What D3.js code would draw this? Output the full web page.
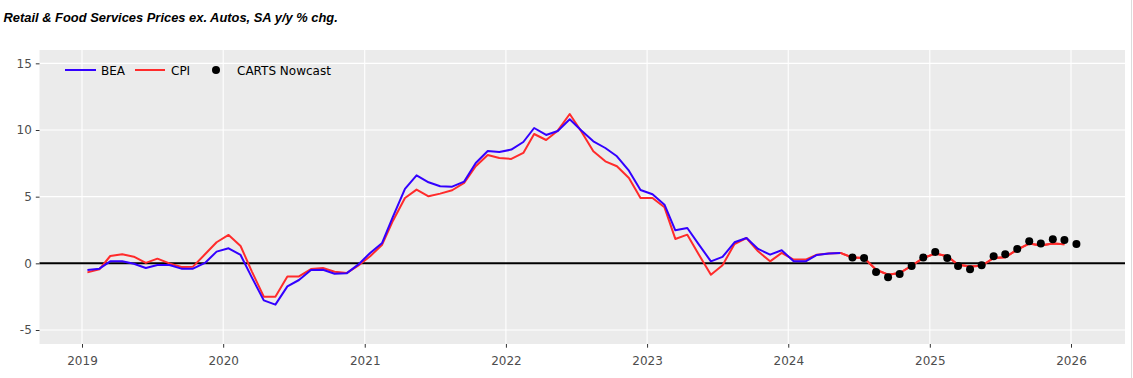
<!DOCTYPE html>
<html><head><meta charset="utf-8">
<script src="https://cdn.jsdelivr.net/npm/d3@7"></script>
<style>
html,body{margin:0;padding:0;background:#fff;}
svg{display:block;}
</style></head>
<body>
<svg id="chart" width="1133" height="378"></svg>
<script>
// ---- data ----
const title = "Retail & Food Services Prices ex. Autos, SA y/y % chg.";
const seriesNames = ["BEA", "CPI", "CARTS Nowcast"];
const beaStart = "2019-01-15";
const beaValues = [
  -0.5, -0.4, 0.15, 0.15, -0.03, -0.35, -0.13, -0.13, -0.4, -0.4, 0.03, 0.88,
  1.13, 0.63, -1.05, -2.78, -3.1, -1.73, -1.25, -0.5, -0.48, -0.78, -0.75, -0.1,
  0.78, 1.53, 3.5, 5.58, 6.6, 6.08, 5.78, 5.75, 6.13, 7.53, 8.43, 8.35,
  8.53, 9.1, 10.15, 9.63, 9.93, 10.8, 9.96, 9.15, 8.65, 8.03, 6.95, 5.5,
  5.18, 4.4, 2.48, 2.65, 1.4, 0.15, 0.48, 1.58, 1.9, 1.08, 0.65, 0.98,
  0.15, 0.15, 0.63, 0.73, 0.78
];
const cpiStart = "2019-01-15";
const cpiValues = [
  -0.68, -0.45, 0.55, 0.68, 0.5, 0.03, 0.35, 0.0, -0.28, -0.25, 0.68, 1.58,
  2.13, 1.3, -0.6, -2.5, -2.5, -0.98, -0.98, -0.43, -0.35, -0.63, -0.73, -0.18,
  0.53, 1.4, 3.2, 4.9, 5.53, 5.03, 5.23, 5.48, 6.03, 7.28, 8.13, 7.9,
  7.83, 8.28, 9.7, 9.25, 9.95, 11.2, 9.89, 8.4, 7.65, 7.28, 6.4, 4.9,
  4.9, 4.2, 1.83, 2.15, 0.65, -0.85, -0.15, 1.45, 1.9, 0.9, 0.15, 0.78,
  0.28, 0.28, 0.65, 0.73, 0.78, 0.43, 0.4, -0.48, -0.85, -0.73, -0.18, 0.4,
  0.73, 0.53, -0.1, -0.23, -0.18, 0.4, 0.45, 1.03, 1.48, 1.33, 1.48, 1.43
];
const nowcastStart = "2024-06-15";
const nowcastValues = [
  0.43, 0.4, -0.65, -1.05, -0.8, -0.2, 0.43, 0.85, 0.4, -0.2, -0.45, -0.15,
  0.53, 0.68, 1.08, 1.65, 1.48, 1.8, 1.75, 1.45
];
const yTicks = [-5, 0, 5, 10, 15];
const xTickYears = ["2019", "2020", "2021", "2022", "2023", "2024", "2025", "2026"];

// ---- helpers ----
const parse = d3.utcParse("%Y-%m-%d");
function toSeries(start, values) {
  const s = parse(start);
  return values.map((v, i) => ({ date: d3.utcMonth.offset(s, i), value: v }));
}
const bea = toSeries(beaStart, beaValues);
const cpi = toSeries(cpiStart, cpiValues);
const nowcast = toSeries(nowcastStart, nowcastValues);

// ---- layout ----
const svg = d3.select("#chart");
const panel = { left: 39.5, right: 1125, top: 50, bottom: 344 };
const x = d3.scaleUtc()
  .domain([parse("2019-01-01"), parse("2026-01-01")])
  .range([82, 1071]);
const y = d3.scaleLinear().domain([-6.05, 16]).range([panel.bottom, panel.top]);

const colBEA = "#3300ff", colCPI = "#ff2b2b";
const tickFont = "DejaVu Sans, Verdana, sans-serif";

// panel background
svg.append("rect")
  .attr("x", panel.left).attr("y", panel.top)
  .attr("width", panel.right - panel.left).attr("height", panel.bottom - panel.top)
  .attr("fill", "#ebebeb");

// right edge line
svg.append("line").attr("x1", 1131.5).attr("x2", 1131.5).attr("y1", 0).attr("y2", 378)
  .attr("stroke", "#dcdcdc").attr("stroke-width", 1);

const xTickDates = xTickYears.map(yr => parse(yr + "-01-01"));

// grid lines
const grid = svg.append("g");
grid.selectAll("line.h").data(yTicks).enter().append("line")
  .attr("x1", panel.left).attr("x2", panel.right)
  .attr("y1", d => y(d)).attr("y2", d => y(d))
  .attr("stroke", "#fff").attr("stroke-width", 1.1);
grid.selectAll("line.v").data(xTickDates).enter().append("line")
  .attr("y1", panel.top).attr("y2", panel.bottom)
  .attr("x1", d => x(d)).attr("x2", d => x(d))
  .attr("stroke", "#fff").attr("stroke-width", 1.1);

// zero line
svg.append("line")
  .attr("x1", panel.left).attr("x2", panel.right)
  .attr("y1", y(0)).attr("y2", y(0))
  .attr("stroke", "#000").attr("stroke-width", 2);

// axes
const yAxis = d3.axisLeft(y).tickValues(yTicks).tickSize(3.7).tickPadding(4)
  .tickFormat(d => d3.format("d")(d).replace("\u2212", "-"));
const gy = svg.append("g").attr("transform", `translate(${panel.left},0)`).call(yAxis);
gy.select(".domain").remove();
gy.selectAll(".tick line").attr("stroke", "#333").attr("stroke-width", 1);
gy.selectAll(".tick text").attr("fill", "#4d4d4d").attr("font-family", tickFont).attr("font-size", 12);

const xAxis = d3.axisBottom(x).tickValues(xTickDates).tickSize(3.7).tickPadding(9)
  .tickFormat(d3.utcFormat("%Y"));
const gx = svg.append("g").attr("transform", `translate(0,${panel.bottom})`).call(xAxis);
gx.select(".domain").remove();
gx.selectAll(".tick line").attr("stroke", "#333").attr("stroke-width", 1);
gx.selectAll(".tick text").attr("fill", "#4d4d4d").attr("font-family", tickFont).attr("font-size", 12);

// lines
const line = d3.line().x(d => x(d.date)).y(d => y(d.value));
svg.append("path").datum(cpi).attr("d", line)
  .attr("fill", "none").attr("stroke", colCPI).attr("stroke-width", 2).attr("stroke-linejoin", "round");
svg.append("path").datum(bea).attr("d", line)
  .attr("fill", "none").attr("stroke", colBEA).attr("stroke-width", 2).attr("stroke-linejoin", "round");
svg.append("path").datum(cpi.filter(d => d.date >= parse("2024-05-01"))).attr("d", line)
  .attr("fill", "none").attr("stroke", colCPI).attr("stroke-width", 2);

// nowcast points
svg.selectAll("circle.nc").data(nowcast).enter().append("circle")
  .attr("cx", d => x(d.date)).attr("cy", d => y(d.value)).attr("r", 4)
  .attr("fill", "#000");

// legend
const lg = svg.append("g").attr("font-family", tickFont).attr("font-size", 12).attr("fill", "#000");
lg.append("line").attr("x1", 65).attr("x2", 96).attr("y1", 70).attr("y2", 70)
  .attr("stroke", colBEA).attr("stroke-width", 2);
lg.append("text").attr("x", 101).attr("y", 74.5).text(seriesNames[0]);
lg.append("line").attr("x1", 135).attr("x2", 165).attr("y1", 70).attr("y2", 70)
  .attr("stroke", colCPI).attr("stroke-width", 2);
lg.append("text").attr("x", 171).attr("y", 74.5).text(seriesNames[1]);
lg.append("circle").attr("cx", 216).attr("cy", 70).attr("r", 4).attr("fill", "#000");
lg.append("text").attr("x", 237).attr("y", 74.5).text(seriesNames[2]);

// title
svg.append("text").attr("x", 3.5).attr("y", 22)
  .attr("font-family", "Liberation Sans, Arial, sans-serif")
  .attr("font-weight", "bold").attr("font-style", "italic").attr("font-size", 12.9)
  .attr("fill", "#000").text(title);
</script>
</body></html>
